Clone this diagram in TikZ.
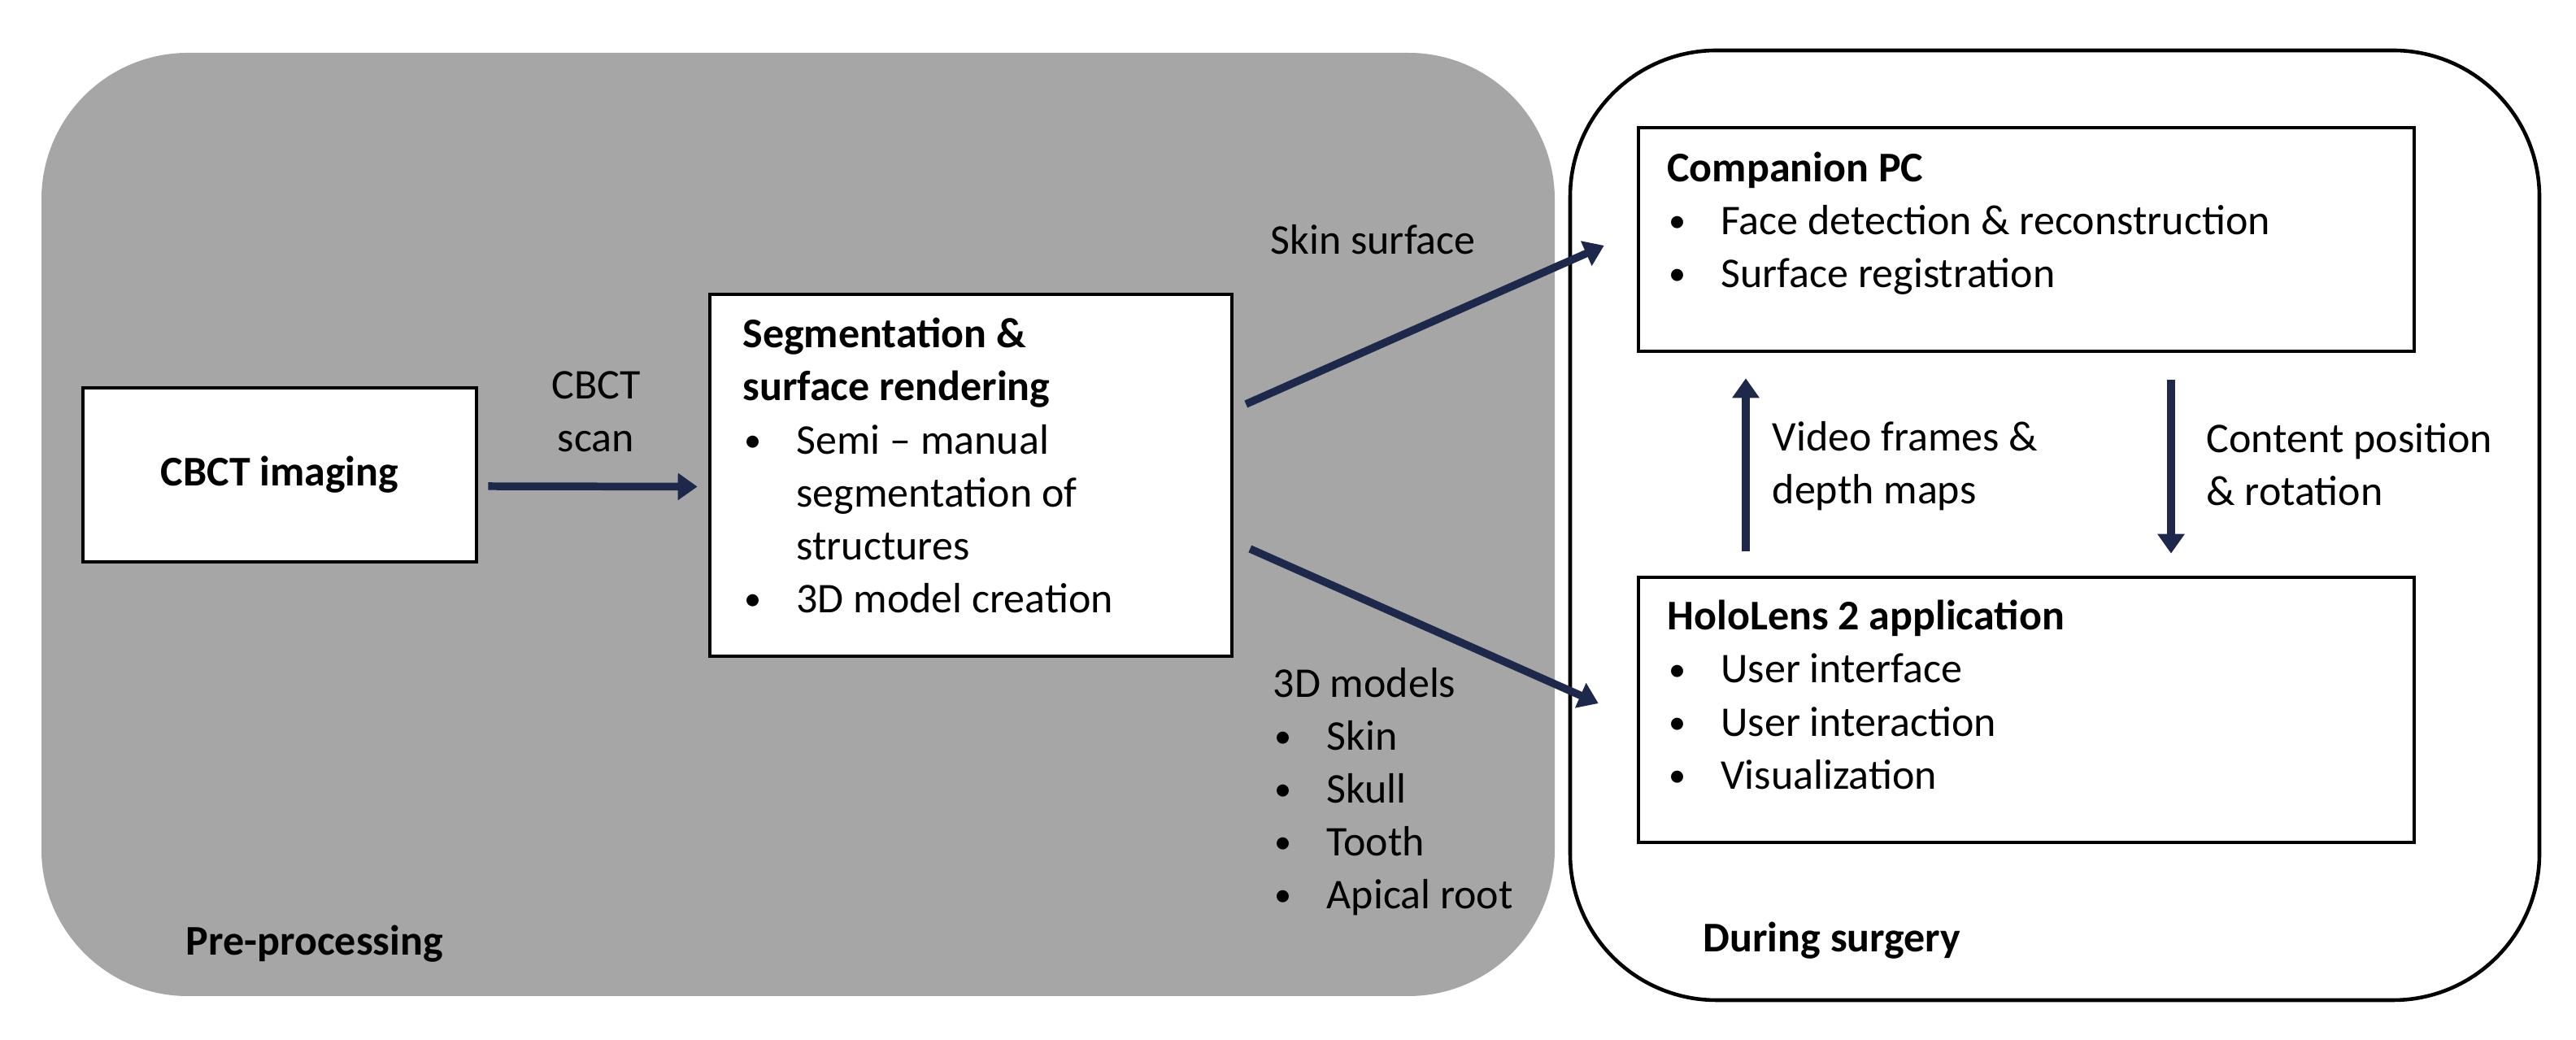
\documentclass[tikz,border=0pt]{standalone}
\usepackage{fontspec}
\setmainfont{Carlito}
\usepackage{tikz}
\usetikzlibrary{arrows.meta}
\definecolor{panelgray}{RGB}{166,166,166}
\definecolor{arrownavy}{RGB}{30,40,75}
\newcommand{\itm}{\makebox[0.66cm][l]{\hspace{0.02cm}\raisebox{0.12ex}{\fontsize{12}{12}\selectfont\textbullet}}}
\newcommand{\itmgap}{\hspace*{0.66cm}}

\begin{document}
\begin{tikzpicture}[
    font=\fontsize{14.8}{18.5}\selectfont,
    panel/.style={rounded corners=1.8cm, inner sep=0pt},
    box/.style={draw, line width=1.3pt, fill=white, inner sep=0pt},
    txt/.style={inner sep=0pt, align=left, anchor=north west},
    lbl/.style={inner sep=0pt},
    flow/.style={draw=arrownavy, line width=2.7pt, -{Triangle[length=0.24cm,width=0.32cm]}}
]
\useasboundingbox (0,0) rectangle (31.68,12.79);

\node[panel, fill=panelgray, minimum width=18.61cm, minimum height=11.60cm] (pre) at (9.815,6.34) {};
\node[panel, draw, line width=1.3pt, fill=white, minimum width=11.92cm, minimum height=11.68cm] (intra) at (25.27,6.33) {};

\node[box, minimum width=4.84cm, minimum height=2.14cm, font=\fontsize{14.8}{18.5}\selectfont\bfseries] (cbct) at (3.44,6.95) {CBCT imaging};
\node[box, minimum width=6.42cm, minimum height=4.45cm] (seg) at (11.94,6.945) {};
\node[box, minimum width=9.54cm, minimum height=2.75cm] (pc) at (24.92,9.845) {};
\node[box, minimum width=9.54cm, minimum height=3.26cm] (holo) at (24.92,4.06) {};

\node[txt] (segtxt) at ([xshift=0.42cm,yshift=-0.31cm]seg.north west) {\textbf{Segmentation \&}\\ \textbf{surface rendering}\\ \itm Semi -- manual\\ \itmgap segmentation of\\ \itmgap structures\\ \itm 3D model creation};
\node[txt] (pctxt) at ([xshift=0.37cm,yshift=-0.32cm]pc.north west) {\textbf{Companion PC}\\ \itm Face detection \& reconstruction\\ \itm Surface registration};
\node[txt] (holotxt) at ([xshift=0.37cm,yshift=-0.30cm]holo.north west) {\textbf{HoloLens 2 application}\\ \itm User interface\\ \itm User interaction\\ \itm Visualization};

\draw[flow] ([xshift=0.12cm,yshift=-0.14cm]cbct.east) -- ([xshift=-0.13cm,yshift=-0.14cm]seg.west);
\draw[flow] ([xshift=0.15cm,yshift=0.875cm]seg.east) -- ([xshift=-0.40cm,yshift=-0.075cm]pc.west);
\draw[flow] ([xshift=0.20cm,yshift=-0.905cm]seg.east) -- ([xshift=-0.47cm,yshift=0.08cm]holo.west);
\draw[flow] ([xshift=-3.45cm,yshift=0.30cm]holo.north) -- ([xshift=-3.45cm,yshift=-0.31cm]pc.south);
\draw[flow] ([xshift=1.78cm,yshift=-0.33cm]pc.south) -- ([xshift=1.78cm,yshift=0.27cm]holo.north);

\node[lbl, align=center] (scanlbl) at (7.33,7.73) {CBCT\\scan};
\node[lbl, anchor=base west] (skinlbl) at (15.62,9.66) {Skin surface};
\node[txt] (modelslbl) at (15.65,4.58) {3D models\\ \itm Skin\\ \itm Skull\\ \itm Tooth\\ \itm Apical root};
\node[txt] (videolbl) at (21.79,7.61) {Video frames \&\\ depth maps};
\node[txt] (poselbl) at (27.13,7.59) {Content position\\ \& rotation};
\node[lbl, anchor=base west, font=\fontsize{14.8}{18.5}\selectfont\bfseries] (prelbl) at (2.28,1.04) {Pre-processing};
\node[lbl, anchor=base west, font=\fontsize{14.8}{18.5}\selectfont\bfseries] (duringlbl) at (20.94,1.08) {During surgery};

\end{tikzpicture}
\end{document}
